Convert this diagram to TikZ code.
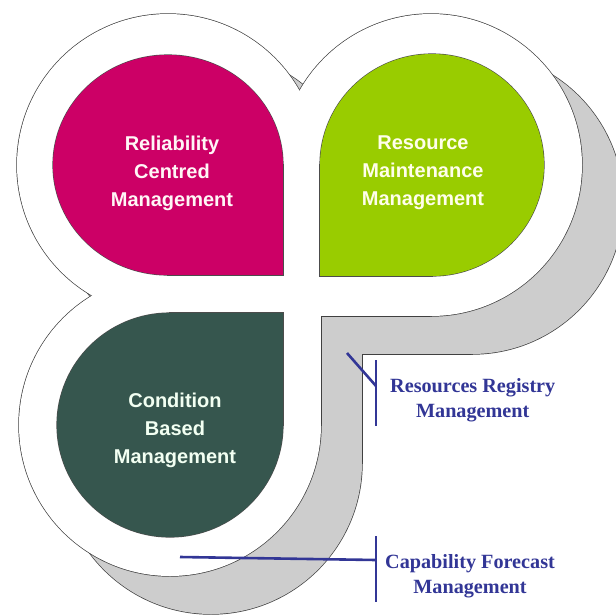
\documentclass[tikz,border=0pt]{standalone}
\usepackage{fontspec}
\setmainfont{Liberation Serif}
\setsansfont{Liberation Sans}
\definecolor{pinkleaf}{RGB}{204,0,102}
\definecolor{greenleaf}{RGB}{153,204,0}
\definecolor{darkleaf}{RGB}{54,86,78}
\definecolor{shadowgray}{RGB}{205,205,205}
\definecolor{labelblue}{RGB}{50,54,150}
\newcommand\shadowparts[1]{%
  \path[#1] (209,203) circle[radius=151pt];
  \path[#1] (472,203) circle[radius=151pt];
  \path[#1] (211,463) circle[radius=151pt];
  \path[#1] (209,203) rectangle (472,354);
  \path[#1] (209,203) rectangle (362,463);}
\newcommand\outlineparts[1]{%
  \path[#1] (168,165) circle[radius=151pt];
  \path[#1] (431,165) circle[radius=151pt];
  \path[#1] (170,425) circle[radius=151pt];
  \path[#1] (168,165) rectangle (431,316);
  \path[#1] (168,165) rectangle (321,425);}
\newcommand\leafparts[7]{% #1 style, ellipse center (#2,#3), rx #4, ry #5, rect corner (#6,#7)
  \path[#1] (#2,#3) ellipse[x radius=#4pt, y radius=#5pt];
  \path[#1] (#2,#3) rectangle (#6,#7);}
\begin{document}
\begin{tikzpicture}[x=1pt,y=-1pt,
  leaftext/.style={font=\sffamily\bfseries\fontsize{20}{28}\selectfont, align=center, inner sep=0pt},
  labeltext/.style={font=\rmfamily\bfseries\fontsize{20.2}{24.5}\selectfont, align=center, text=labelblue, inner sep=0pt},
  bracket/.style={draw=labelblue, line width=2.6pt},
  edgeline/.style={draw=black!75, line width=1.4pt},
  leafedge/.style={draw=black!70, line width=1.2pt}]
\useasboundingbox (0,0) rectangle (616,614);
\fill[white] (0,0) rectangle (616,614);
\begin{scope}
  \clip (0,0) rectangle (616,614);
  \shadowparts{edgeline}
  \shadowparts{fill=shadowgray}
\end{scope}
\outlineparts{edgeline}
\outlineparts{fill=white}
% leaves
\leafparts{leafedge}{168}{165}{115}{110}{283}{275}
\leafparts{fill=pinkleaf}{168}{165}{115}{110}{283}{275}
\leafparts{leafedge}{432}{165}{112}{111}{320}{276}
\leafparts{fill=greenleaf}{432}{165}{112}{111}{320}{276}
\leafparts{leafedge}{170}{425}{113}{112}{283}{313}
\leafparts{fill=darkleaf}{170}{425}{113}{112}{283}{313}
% leaf texts
\node[leaftext, text=pink!15] (rcm) at (172,173) {Reliability\\Centred\\Management};
\node[leaftext, text=yellow!8] (rmm) at (423,173) {Resource\\Maintenance\\Management};
\node[leaftext, text=green!5] (cbm) at (175,430) {Condition\\Based\\Management};
% labels
\node[labeltext, anchor=west] (rrm) at (390,400) {Resources Registry\\Management};
\node[labeltext, anchor=west] (cfm) at (385,576) {Capability Forecast\\Management};
\coordinate (rrtip) at (347,353);
\coordinate (rrjoin) at (376,386);
\coordinate (rrtop) at (376,360);
\coordinate (rrbot) at (376,426);
\coordinate (cftip) at (180,557);
\coordinate (cfjoin) at (376,560);
\coordinate (cftop) at (376,536);
\coordinate (cfbot) at (376,602);
\draw[bracket] (rrtip) -- (rrjoin);
\draw[bracket] (rrtop) -- (rrbot);
\draw[bracket] (cftip) -- (cfjoin);
\draw[bracket] (cftop) -- (cfbot);
\end{tikzpicture}
\end{document}
